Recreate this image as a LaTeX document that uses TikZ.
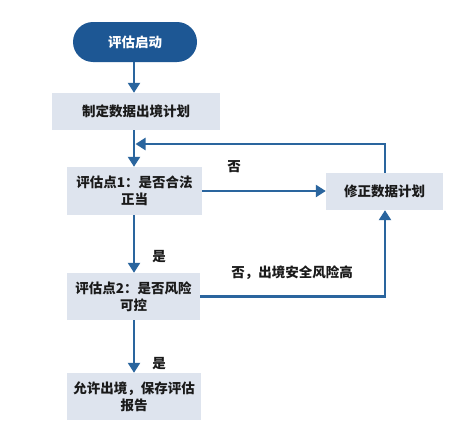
\documentclass[tikz,border=0pt]{standalone}
\usepackage{fontspec}
\setmainfont{Noto Sans CJK SC}
\usetikzlibrary{arrows.meta}
\definecolor{pillblue}{HTML}{1D5794}
\definecolor{boxfill}{HTML}{DEE4EE}
\definecolor{linec}{HTML}{2A659E}
\definecolor{txt}{HTML}{1A1A1A}
\begin{document}
\begin{tikzpicture}[x=1pt,y=-1pt,
  every node/.style={font=\fontsize{13.5}{17}\selectfont\bfseries, text=txt},
  pill/.style={fill=pillblue, rounded corners=20pt, minimum width=124pt, minimum height=40pt, text=white, inner sep=0pt},
  box/.style={fill=boxfill, align=center, inner sep=0pt},
  conn/.style={draw=linec, line width=2.4pt, -{Triangle[width=12pt,length=10pt]}},
  lbl/.style={inner sep=1pt}]
\fill[white] (0,0) rectangle (465,439);
\node[pill] (start) at (135,42) {评估启动};
\node[box, minimum width=168pt, minimum height=37pt] (plan) at (136,111.5) {制定数据出境计划};
\node[box, minimum width=135pt, minimum height=48pt] (e1) at (134.5,191) {评估点1：是否合法\\正当};
\node[box, minimum width=117pt, minimum height=37pt] (fix) at (384.5,191.5) {修正数据计划};
\node[box, minimum width=133pt, minimum height=47pt] (e2) at (133.5,296.5) {评估点2：是否风险\\可控};
\node[box, minimum width=134pt, minimum height=47pt] (ok) at (134,396.5) {允许出境，保存评估\\报告};
\coordinate (j) at (134,144);
\draw[conn] (start.south -| 134,0) -- (plan.north -| 134,0);
\draw[conn] (plan.south -| 134,0) -- (e1.north -| 134,0);
\draw[conn] (fix.north -| 385,0) |- ([xshift=1.5pt]j);
\draw[conn] (e1.east) -- (fix.west |- e1.east);
\draw[conn] (e1.south -| 134,0) -- (e2.north -| 134,0);
\draw[conn] (e2.east) -| (fix.south -| 385,0);
\draw[conn] (e2.south -| 134,0) -- (ok.north -| 134,0);
\node[lbl] (l1) at (234,167) {否};
\node[lbl] (l2) at (159,257) {是};
\node[lbl] (l3) at (292,273) {否，出境安全风险高};
\node[lbl] (l4) at (159,364) {是};
\end{tikzpicture}
\end{document}
